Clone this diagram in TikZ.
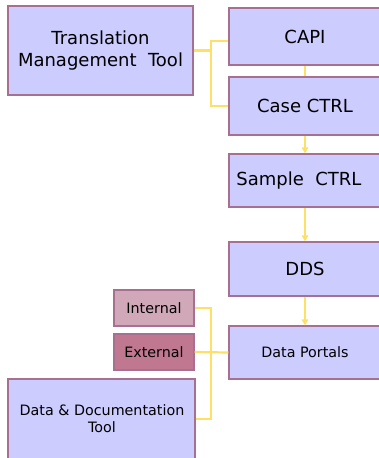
\documentclass[tikz,border=0pt]{standalone}
\usepackage{fontspec}
\setmainfont{DejaVu Sans}
\usetikzlibrary{arrows.meta}
\definecolor{boxfill}{HTML}{CCCCFF}
\definecolor{boxline}{HTML}{A87090}
\definecolor{intfill}{HTML}{D0A8B8}
\definecolor{extfill}{HTML}{C07890}
\definecolor{conn}{HTML}{FFE066}
\tikzset{
  box/.style={draw=boxline, line width=1.3pt, fill=boxfill, rectangle, inner sep=0pt, align=center, text=black},
  big/.style={font=\fontsize{18}{22}\selectfont},
  small/.style={font=\fontsize{14.3}{17}\selectfont},
  link/.style={draw=conn, line width=2.2pt},
  arr/.style={link, -{Triangle[length=6pt,width=6.5pt]}},
}
\begin{document}
\begin{tikzpicture}[x=1pt,y=-1pt]
\useasboundingbox (0,0) rectangle (378,458);
\node[box, minimum width=185pt, minimum height=89pt, big] (tmt) at (100.5,50.5) {Translation\\Management\ \ Tool};
\node[box, minimum width=152pt, minimum height=57pt, big] (capi) at (305,36.5) {CAPI};
\node[box, minimum width=152pt, minimum height=58pt, big] (case) at (305,106) {Case CTRL};
\node[box, minimum width=152pt, minimum height=53pt] (sample) at (305,180.5) {};
\node[big, inner sep=0pt] (sampletext) at (299,181) {Sample\ \ CTRL};
\node[box, minimum width=152pt, minimum height=54pt, big] (dds) at (305,269) {DDS};
\node[box, minimum width=152pt, minimum height=53pt, small] (dp) at (305,352.5) {Data Portals};
\node[box, fill=intfill, minimum width=80pt, minimum height=36pt, small] (int) at (154,308) {Internal};
\node[box, fill=extfill, minimum width=80pt, minimum height=36pt, small] (ext) at (154,352) {External};
\node[box, minimum width=187pt, minimum height=84pt] (dd) at (101.5,421) {};
\node[small, align=center, inner sep=0pt] (ddtext) at (102,418.5) {Data \& Documentation\\Tool};
% connectors
\coordinate (j1) at (211,50.5);
\draw[link] (tmt.east) -- (j1) |- (capi.west |- 0,41);
\draw[link] (j1) |- (case.west |- 0,106);
\draw[link] (capi.south) -- (case.north);
\draw[arr] (case.south) -- (sample.north);
\draw[arr] (sample.south) -- (dds.north);
\draw[arr] (dds.south) -- (dp.north);
\coordinate (j2) at (211,352);
\draw[link] (int.east) -| (j2);
\draw[link] (ext.east) -- (dp.west);
\draw[link] (dd.east |- 0,419) -| (j2);
\end{tikzpicture}
\end{document}
